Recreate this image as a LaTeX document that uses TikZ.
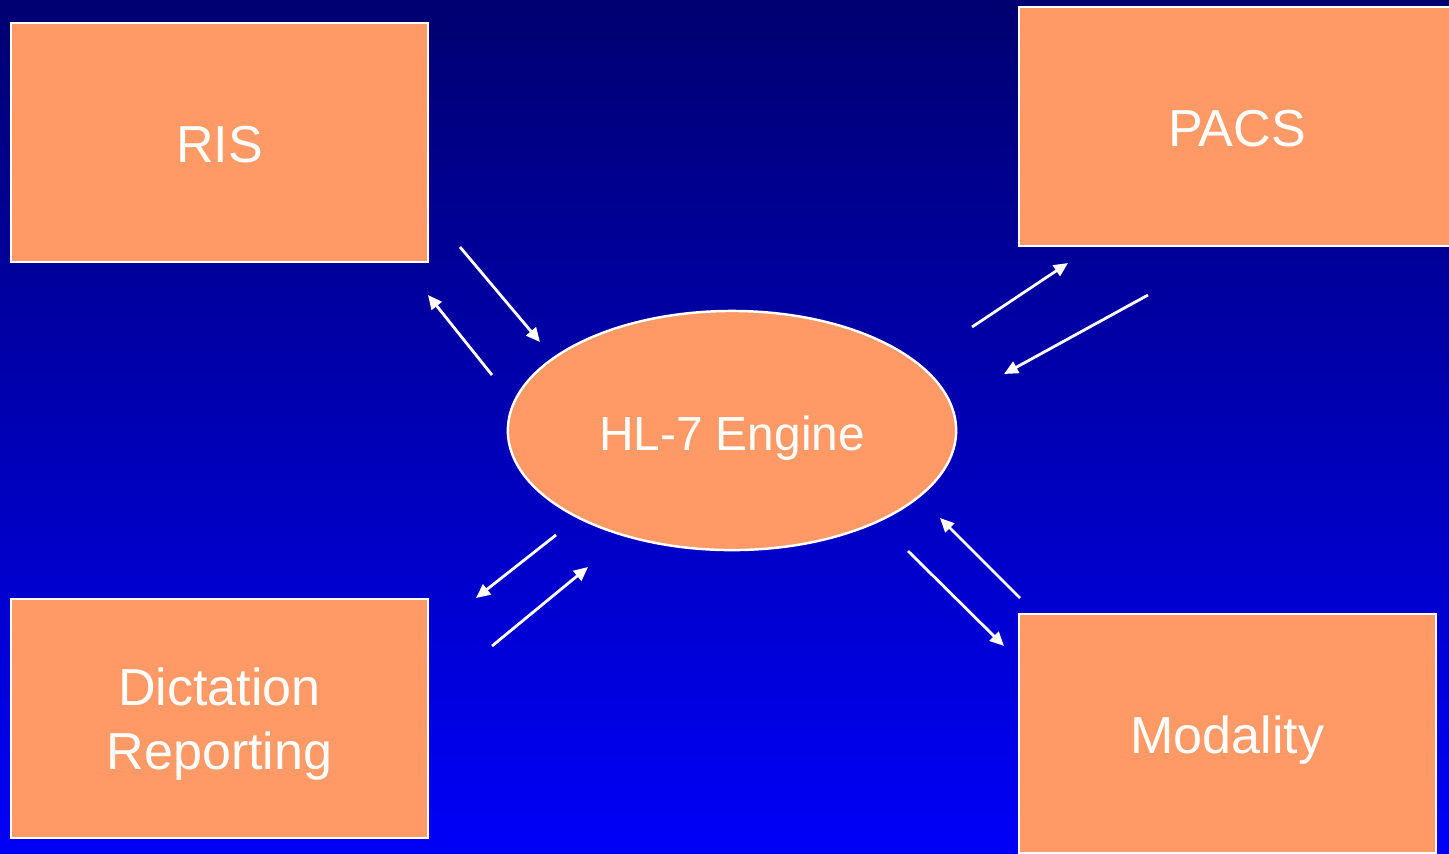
\documentclass[tikz,border=0pt]{standalone}
\usepackage{fontspec}
\setmainfont{Liberation Sans}
\usetikzlibrary{shapes.geometric,arrows.meta,positioning}
\definecolor{slidetop}{RGB}{0,0,112}
\definecolor{slidebottom}{RGB}{0,0,248}
\definecolor{sysorange}{RGB}{255,153,102}
\tikzset{
    sysframe/.style={rectangle, draw=white, fill=sysorange, line width=0.7pt, minimum width=4.17cm, minimum height=2.39cm, text=white, font=\fontsize{14.8}{18}\selectfont, inner sep=0pt},
    sysbox/.style={sysframe, text height=11.2pt, text depth=0pt},
    sysbox2/.style={sysframe, align=center, text depth=0pt},
    engine/.style={ellipse, draw=white, fill=sysorange, line width=0.7pt, minimum width=4.48cm, minimum height=2.39cm, text=white, font=\fontsize{13.6}{16}\selectfont, inner sep=0pt, text height=11.2pt, text depth=0pt},
    flow/.style={white, line width=0.8pt, -{Triangle[length=4pt,width=3.6pt]}},
}

\begin{document}
\begin{tikzpicture}[x=0.01cm, y=-0.01cm]
    \useasboundingbox (0,0) rectangle (1449,853);
    \clip (0,0) rectangle (1449,853);
    % Background
    \shade[top color=slidetop, bottom color=slidebottom] (0,0) rectangle (1449,853);

    % Systems
    \node[sysbox] (ris) at (219.5,142.5) {RIS};
    \node[sysbox, minimum width=4.36cm] (pacs) at (1237,126.5) {PACS};
    \node[sysbox2] (dict) at (219.5,718.5) {Dictation\\Reporting};
    \node[sysbox] (mod) at (1227.5,733.5) {Modality};
    \node[engine] (hl7) at (732,430.5) {HL-7 Engine};

    % Message arrows
    \coordinate (ris-out) at (460,247);
    \coordinate (hl7-ris-in) at (540,342);
    \coordinate (hl7-ris-out) at (492,375);
    \coordinate (ris-in) at (428,295);
    \coordinate (hl7-pacs-out) at (972,327);
    \coordinate (pacs-in) at (1068,263);
    \coordinate (pacs-out) at (1148,295);
    \coordinate (hl7-pacs-in) at (1004,374);
    \coordinate (hl7-dict-out) at (556,535);
    \coordinate (dict-in) at (476,598);
    \coordinate (dict-out) at (492,646);
    \coordinate (hl7-dict-in) at (588,567);
    \coordinate (mod-out) at (1020,598);
    \coordinate (hl7-mod-in) at (940,518);
    \coordinate (hl7-mod-out) at (908,551);
    \coordinate (mod-in) at (1004,646);

    \draw[flow] (ris-out) -- (hl7-ris-in);
    \draw[flow] (hl7-ris-out) -- (ris-in);
    \draw[flow] (hl7-pacs-out) -- (pacs-in);
    \draw[flow] (pacs-out) -- (hl7-pacs-in);
    \draw[flow] (hl7-dict-out) -- (dict-in);
    \draw[flow] (dict-out) -- (hl7-dict-in);
    \draw[flow] (mod-out) -- (hl7-mod-in);
    \draw[flow] (hl7-mod-out) -- (mod-in);
\end{tikzpicture}
\end{document}
